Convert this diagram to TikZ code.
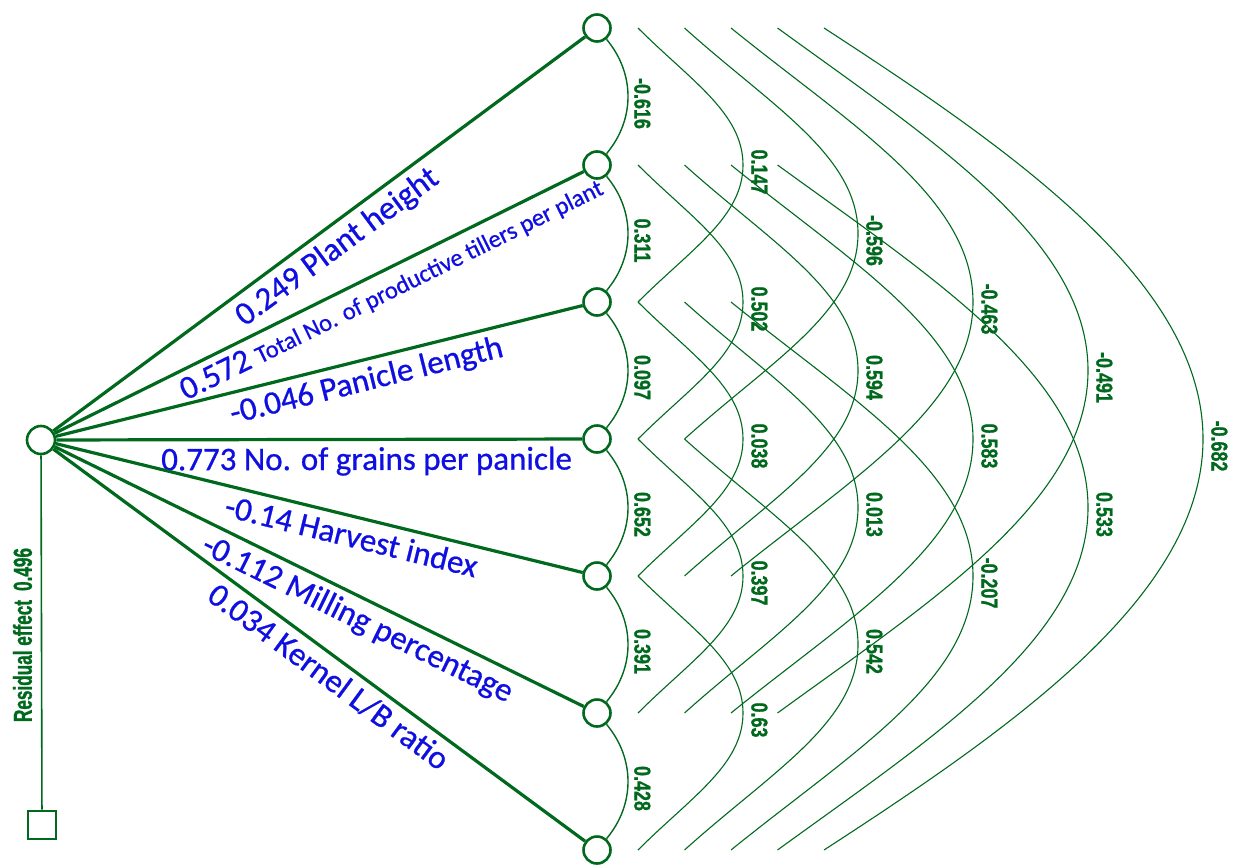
\documentclass[tikz,border=0pt]{standalone}
\usepackage{fontspec}
\setmainfont[FakeBold=0.7]{Carlito}
\newfontfamily\narrowfont[FakeStretch=0.78,FakeBold=1]{Liberation Sans Bold}
\newfontfamily\residfont[FakeStretch=0.66,FakeBold=1]{Liberation Sans Bold}
\usetikzlibrary{calc}

\definecolor{pathgreen}{RGB}{0,105,30}
\definecolor{lblblue}{RGB}{15,15,225}

\begin{document}
\begin{tikzpicture}[x=1pt,y=-1pt,
  trait/.style={circle, draw=pathgreen, line width=2.6pt, minimum size=27pt, inner sep=0pt, fill=white},
  resbox/.style={rectangle, draw=pathgreen, line width=2.6pt, minimum size=28pt, inner sep=0pt},
  effect/.style={draw=pathgreen, line width=3.2pt},
  adjarc/.style={draw=pathgreen, line width=1.4pt},
  corrarc/.style={draw=pathgreen, line width=1.1pt},
  corrlbl/.style={text=pathgreen, font=\narrowfont\fontsize{23}{23}\selectfont, rotate=-90, anchor=south, inner sep=0pt},
  pathlbl/.style={text=lblblue, font=\fontsize{33}{33}\selectfont, sloped, below=5pt, inner sep=1pt}]
\useasboundingbox (0,0) rectangle (1233,867);

% traits
\node[trait] (v1) at (597,28) {};
\node[trait] (v2) at (597,165) {};
\node[trait] (v3) at (597,302) {};
\node[trait] (v4) at (597,439) {};
\node[trait] (v5) at (597,576) {};
\node[trait] (v6) at (597,713) {};
\node[trait] (v7) at (597,850) {};

\node[trait, minimum size=28pt] (yld) at (41,440) {};
\node[resbox] (rsd) at (42,825) {};

% direct effects
\draw[effect] (yld) -- node[pathlbl, pos=0.51] {0.249 Plant height} (v1);
\draw[effect] (yld) -- node[pathlbl, pos=0.62] {0.572 {\fontsize{24.5}{24.5}\selectfont Total No. of productive tillers per plant}} (v2);
\draw[effect] (yld) -- node[pathlbl, pos=0.58] {-0.046 Panicle length} (v3);
\draw[effect] (yld) -- node[pathlbl, pos=0.59] {0.773 No. of grains per panicle} (v4);
\draw[effect] (yld) -- node[pathlbl, pos=0.57] {-0.14 Harvest index} (v5);
\draw[effect] (yld) -- node[pathlbl, pos=0.59] {-0.112 Milling percentage} (v6);
\draw[effect] (yld) -- node[pathlbl, pos=0.54] {0.034 Kernel L/B ratio} (v7);

% residual
\draw[pathgreen, line width=1.6pt] (yld) -- (rsd);
\node[text=pathgreen, font=\residfont\fontsize{26}{26}\selectfont, rotate=90, inner sep=0pt] (reslbl) at (22.5,635) {Residual effect\hspace{9pt}0.496};

% correlations, neighbours
\foreach \a/\b/\val in {1/2/-0.616, 2/3/0.311, 3/4/0.097, 4/5/0.652, 5/6/0.391, 6/7/0.428}{
  \draw[adjarc] (v\a) to[bend left=40] (v\b);
  \node[corrlbl] at ($(v\a)!0.5!(v\b)+(37,7)$) {\val};
}

% correlations, wider pairs
\foreach \a/\b/\val in {1/3/0.147, 2/4/0.502, 3/5/0.038, 4/6/0.397, 5/7/0.63,
    1/4/-0.596, 2/5/0.594, 3/6/0.013, 4/7/0.542,
    1/5/-0.463, 2/6/0.583, 3/7/-0.207,
    1/6/-0.491, 2/7/0.533, 1/7/-0.682}{
  \pgfmathsetmacro\gap{\b-\a}
  \pgfmathsetmacro\xoff{41+46.5*(\gap-2)}
  \pgfmathsetmacro\wid{105+68.5*(\gap-2)}
  \pgfmathsetmacro\hgt{68.5*\gap}
  \pgfmathsetmacro\rise{0.5*\wid*tan(45-3*(\gap-2))}
  \draw[corrarc] ($(v\a)+(\xoff,0)$)
    .. controls +(0.5*\wid,\rise) and +(0,-0.38*\hgt) .. ($(v\a)+(\xoff+\wid,\hgt)$) coordinate (pk)
    .. controls +(0,0.38*\hgt) and +(0.5*\wid,-\rise) .. ($(v\b)+(\xoff,0)$);
  \node[corrlbl] at ($(pk)+(8,7)$) {\val};
}
\end{tikzpicture}
\end{document}
